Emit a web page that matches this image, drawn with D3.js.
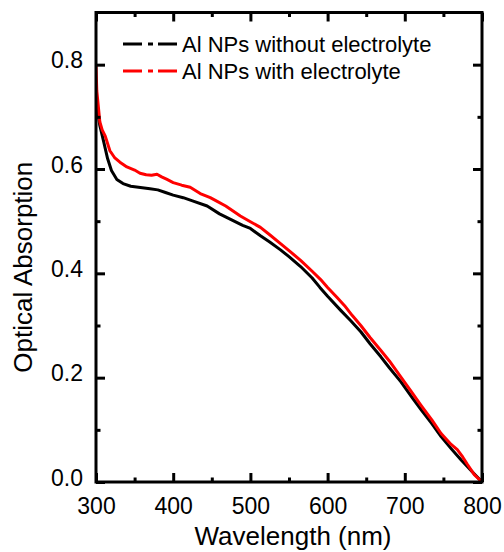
<!DOCTYPE html>
<html>
<head>
<meta charset="utf-8">
<script src="https://cdn.jsdelivr.net/npm/d3@7"></script>
<style>
  html, body { margin: 0; padding: 0; background: #fff; }
  svg text { font-family: "Liberation Sans", Arial, sans-serif; fill: #000; }
</style>
</head>
<body>
<svg id="chart" width="504" height="552"></svg>
<script>
// ---- Data ----
const wlWithout = [300,305,310,315,320,327,335,345,360,370,380,390,400,413,425,444,460,475,490,500,513,525,539,550,565,580,590,600,617,630,643,655,669,680,695,710,721,735,747,760,773,787,800];
const absWithout = [0.73,0.683,0.652,0.62,0.597,0.58,0.572,0.567,0.564,0.562,0.56,0.555,0.55,0.545,0.539,0.529,0.514,0.503,0.492,0.486,0.472,0.46,0.445,0.432,0.413,0.391,0.373,0.356,0.329,0.309,0.288,0.265,0.24,0.219,0.192,0.161,0.139,0.112,0.087,0.064,0.042,0.02,0.0];

const wlWith = [300,301,303,305,308,312,318,324,331,340,350,357,365,372,379,385,392,400,411,422,435,448,457,468,478,487,500,513,525,539,552,565,580,591,600,612,622,632,643,655,669,680,695,708,721,735,747,760,768,775,781,790,800];
const absWith = [0.80,0.75,0.72,0.69,0.675,0.663,0.635,0.622,0.613,0.604,0.598,0.592,0.589,0.588,0.59,0.585,0.58,0.574,0.569,0.565,0.553,0.545,0.538,0.529,0.519,0.51,0.499,0.488,0.474,0.457,0.441,0.425,0.404,0.388,0.373,0.354,0.338,0.319,0.3,0.277,0.252,0.232,0.201,0.174,0.147,0.119,0.093,0.072,0.062,0.048,0.034,0.014,0.0];

const seriesNames = ["Al NPs without electrolyte", "Al NPs with electrolyte"];
const seriesColors = ["#000000", "#ff0000"];

const xMajor = [300,400,500,600,700,800];
const xMinor = [350,450,550,650,750];
const yMajor = [0.0,0.2,0.4,0.6,0.8];
const yMinor = [0.1,0.3,0.5,0.7];
const xTitle = "Wavelength (nm)";
const yTitle = "Optical Absorption";

// ---- Layout ----
const L = 96, R = 482, T = 12.5, B = 482;
const svg = d3.select("#chart");
const x = d3.scaleLinear().domain([300, 800]).range([L, R]);
const y = d3.scaleLinear().domain([0, 0.9]).range([B, T]);

svg.append("clipPath").attr("id","clip").append("rect")
  .attr("x", L).attr("y", T - 20).attr("width", R - L).attr("height", B - T + 20);

const line = d3.line().x(d => x(d[0])).y(d => y(d[1]));
const series = [
  d3.zip(wlWithout, absWithout),
  d3.zip(wlWith, absWith)
];
series.forEach((s, i) => {
  svg.append("path").datum(s)
    .attr("d", line)
    .attr("fill", "none")
    .attr("stroke", seriesColors[i])
    .attr("stroke-width", 3)
    .attr("stroke-linejoin", "round")
    .attr("clip-path", "url(#clip)");
});

function styleAxis(g) {
  g.select(".domain").remove();
  g.selectAll(".tick line").attr("stroke", "#000").attr("stroke-width", 3);
}
function addAxis(gen, tx, ty, vals, size, labels) {
  const g = svg.append("g").attr("transform", `translate(${tx},${ty})`)
    .call(gen.tickValues(vals).tickSize(-size).tickPadding(0).tickFormat(labels ? null : ""));
  styleAxis(g);
  return g;
}
addAxis(d3.axisBottom(x), 0, B, xMinor, 4.5, false);
addAxis(d3.axisTop(x), 0, T, xMinor, 4.5, false);
addAxis(d3.axisTop(x), 0, T, xMajor, 9, false);
addAxis(d3.axisLeft(y), L, 0, yMinor, 4.5, false);
addAxis(d3.axisRight(y), R, 0, yMinor, 4.5, false);
addAxis(d3.axisRight(y), R, 0, yMajor, 9, false);

const gx = addAxis(d3.axisBottom(x), 0, B, xMajor, 9, true);
gx.selectAll(".tick text")
  .attr("font-size", 23).attr("y", 32).attr("dy", 0)
  .style("font-family", "'Liberation Sans', Arial, sans-serif");

const gy = addAxis(d3.axisLeft(y).tickFormat(d3.format(".1f")), L, 0, yMajor, 9, true);
gy.selectAll(".tick text")
  .text(d => d3.format(".1f")(d))
  .attr("font-size", 23).attr("x", -13).attr("dy", 0).attr("y", 3)
  .style("font-family", "'Liberation Sans', Arial, sans-serif");

svg.append("rect").attr("x", L).attr("y", T).attr("width", R - L).attr("height", B - T)
  .attr("fill", "none").attr("stroke", "#000").attr("stroke-width", 3);

svg.append("text").attr("x", (L + R) / 2 + 4).attr("y", 545)
  .attr("text-anchor", "middle").attr("font-size", 26).text(xTitle);
svg.append("text").attr("transform", `translate(32,${(T + B) / 2 + 20}) rotate(-90)`)
  .attr("text-anchor", "middle").attr("font-size", 26).text(yTitle);

const legY = [44, 71];
seriesNames.forEach((name, i) => {
  const g = svg.append("g");
  g.append("line").attr("x1", 123).attr("x2", 177).attr("y1", legY[i]).attr("y2", legY[i])
    .attr("stroke", seriesColors[i]).attr("stroke-width", 3)
    .attr("stroke-dasharray", "19,6,5,5,19");
  g.append("text").attr("x", 182).attr("y", legY[i] + 8).attr("font-size", 22).text(name);
});
</script>
</body>
</html>
